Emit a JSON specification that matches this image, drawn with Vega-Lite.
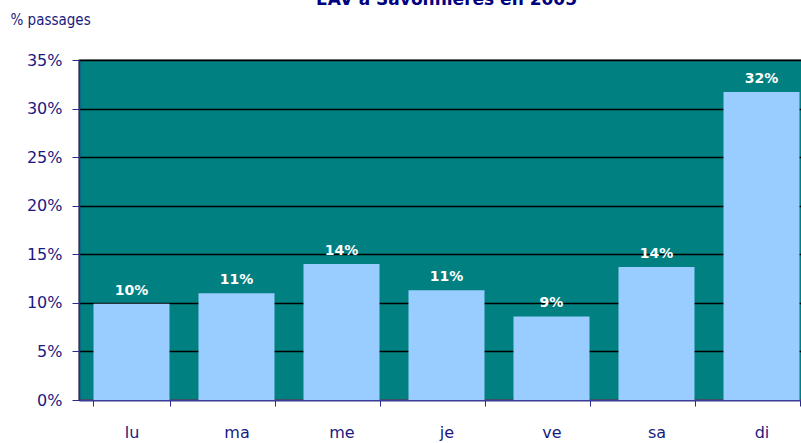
{
  "$schema": "https://vega.github.io/schema/vega-lite/v6.json",
  "width": 735,
  "height": 340,
  "autosize": {"type": "none"},
  "padding": {"left": 79, "top": 60, "right": 0, "bottom": 43},
  "title": {
    "text": "EAV à Savonnières en 2005",
    "font": "DejaVu Sans",
    "fontSize": 17,
    "fontWeight": "bold",
    "color": "#000080",
    "anchor": "middle",
    "frame": "group",
    "baseline": "alphabetic",
    "offset": 4,
    "dy": 14
  },
  "config": {
    "view": {"fill": "#008080", "stroke": "#707070", "strokeWidth": 1.5}
  },
  "data": {
    "values": [
      {"jour": "lu", "part": 0.099},
      {"jour": "ma", "part": 0.110},
      {"jour": "me", "part": 0.140},
      {"jour": "je", "part": 0.113},
      {"jour": "ve", "part": 0.086},
      {"jour": "sa", "part": 0.137},
      {"jour": "di", "part": 0.317}
    ]
  },
  "encoding": {
    "x": {
      "field": "jour",
      "type": "nominal",
      "sort": null,
      "scale": {"paddingInner": 0.276, "paddingOuter": 0.138},
      "axis": {
        "title": null,
        "labelAngle": 0,
        "labelFont": "DejaVu Sans",
        "labelFontSize": 16,
        "labelColor": "#1a1a80",
        "labelPadding": 18,
        "tickBand": "extent",
        "tickSize": 6,
        "tickColor": "#2a2a90",
        "domainColor": "#3a3aa0",
        "domainWidth": 1.5
      }
    },
    "y": {
      "field": "part",
      "type": "quantitative",
      "scale": {"domain": [0, 0.35], "nice": false},
      "axis": {
        "title": "% passages",
        "titleAngle": 0,
        "titleAlign": "left",
        "titleBaseline": "alphabetic",
        "titleX": -69,
        "titleY": -36,
        "titleFont": "DejaVu Sans Condensed",
        "titleFontSize": 15,
        "titleFontWeight": "normal",
        "titleColor": "#1a1a80",
        "values": [0, 0.05, 0.1, 0.15, 0.2, 0.25, 0.3, 0.35],
        "format": ".0%",
        "labelFont": "DejaVu Sans",
        "labelFontSize": 16,
        "labelColor": "#1a1a80",
        "labelPadding": 10,
        "tickSize": 7,
        "tickColor": "#2a2a90",
        "domainColor": "#2a2a90",
        "domainWidth": 1.5,
        "grid": true,
        "gridColor": "#000000",
        "gridWidth": 1.6,
        "gridOpacity": 1
      }
    }
  },
  "layer": [
    {"mark": {"type": "bar", "color": "#99ccff"}},
    {
      "mark": {
        "type": "text",
        "color": "#ffffff",
        "fontWeight": "bold",
        "fontSize": 14,
        "font": "DejaVu Sans",
        "baseline": "alphabetic",
        "dy": -9
      },
      "encoding": {"text": {"field": "part", "type": "quantitative", "format": ".0%"}}
    }
  ]
}
